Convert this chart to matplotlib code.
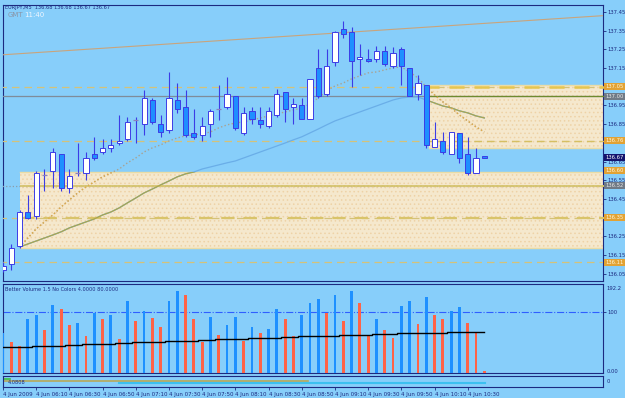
import numpy as np
import matplotlib.pyplot as plt
from matplotlib.patches import Rectangle

# EURJPY M5, 4 Jun 2009, one bar per 5 minutes from 05:50
opens = [136.07, 136.10, 136.20, 136.38, 136.36, 136.58, 136.60, 136.69, 136.51, 136.59,
         136.59, 136.69, 136.70, 136.72, 136.75, 136.77, 136.87, 136.85, 136.98, 136.85,
         136.82, 136.98, 136.94, 136.80, 136.79, 136.85, 136.93, 136.94, 137.00, 136.80,
         136.92, 136.87, 136.84, 136.90, 137.02, 136.94, 136.95, 136.88, 137.15, 137.01,
         137.18, 137.36, 137.34, 137.20, 137.20, 137.20, 137.24, 137.16, 137.25, 137.15,
         137.01, 137.06, 136.73, 136.76, 136.69, 136.80, 136.69, 136.59, 136.68]
highs = [136.11, 136.21, 136.39, 136.47, 136.60, 136.61, 136.72, 136.69, 136.61, 136.75,
         136.70, 136.78, 136.77, 136.77, 136.90, 136.89, 136.89, 137.03, 136.99, 136.90,
         137.13, 137.07, 137.03, 136.93, 136.89, 136.93, 137.06, 137.10, 137.00, 136.94,
         136.94, 136.94, 136.94, 137.04, 137.02, 136.99, 136.99, 137.09, 137.25, 137.25,
         137.35, 137.40, 137.37, 137.28, 137.25, 137.27, 137.27, 137.26, 137.26, 137.15,
         137.11, 137.06, 136.86, 136.81, 136.81, 136.80, 136.78, 136.72, 136.68]
lows = [136.06, 136.07, 136.19, 136.34, 136.34, 136.49, 136.51, 136.49, 136.48, 136.57,
        136.55, 136.66, 136.69, 136.70, 136.74, 136.76, 136.75, 136.79, 136.85, 136.78,
        136.80, 136.91, 136.78, 136.77, 136.76, 136.78, 136.87, 136.93, 136.82, 136.79,
        136.85, 136.83, 136.83, 136.89, 136.86, 136.85, 136.88, 136.88, 136.99, 137.00,
        137.16, 137.31, 137.05, 137.11, 137.18, 137.18, 137.16, 137.15, 137.06, 137.00,
        136.98, 136.72, 136.73, 136.69, 136.69, 136.64, 136.58, 136.59, 136.67]
closes = [136.09, 136.19, 136.38, 136.35, 136.59, 136.58, 136.70, 136.51, 136.57, 136.59,
          136.67, 136.67, 136.72, 136.74, 136.76, 136.86, 136.87, 136.99, 136.86, 136.81,
          136.99, 136.93, 136.79, 136.78, 136.84, 136.92, 136.93, 137.01, 136.83, 136.91,
          136.88, 136.85, 136.92, 137.01, 136.93, 136.96, 136.88, 137.09, 137.00, 137.16,
          137.34, 137.33, 137.19, 137.21, 137.19, 137.24, 137.17, 137.23, 137.16, 137.00,
          137.07, 136.74, 136.77, 136.70, 136.81, 136.67, 136.59, 136.67, 136.67]

# two moving averages, from bar 2 on
ma_start = 2
ma_fast = [136.193, 136.241, 136.290, 136.327, 136.364, 136.407, 136.445, 136.482, 136.514, 136.541,
           136.568, 136.589, 136.610, 136.643, 136.669, 136.701, 136.723, 136.739, 136.760, 136.776,
           136.787, 136.792, 136.798, 136.808, 136.830, 136.846, 136.856, 136.862, 136.872, 136.883,
           136.894, 136.905, 136.915, 136.926, 136.937, 136.958, 136.990, 137.028, 137.054, 137.070,
           137.092, 137.108, 137.124, 137.129, 137.140, 137.151, 137.156, 137.129, 137.097, 137.049,
           137.006, 136.969, 136.937, 136.899, 136.867, 136.835, 136.808]
ma_slow = [136.193, 136.209, 136.225, 136.241, 136.257, 136.274, 136.295, 136.311, 136.327, 136.343,
           136.364, 136.380, 136.402, 136.429, 136.455, 136.482, 136.503, 136.525, 136.546, 136.568,
           136.584, 136.594, 136.610, 136.621, 136.632, 136.643, 136.653, 136.669, 136.685, 136.701,
           136.717, 136.733, 136.749, 136.766, 136.782, 136.803, 136.824, 136.846, 136.867, 136.883,
           136.899, 136.915, 136.931, 136.947, 136.963, 136.979, 136.990, 136.995, 136.995, 136.979,
           136.963, 136.947, 136.937, 136.921, 136.910, 136.894, 136.883]

volume = [65, 50, 45, 88, 95, 70, 112, 105, 78, 82,
          60, 98, 88, 95, 55, 118, 85, 102, 90, 75,
          118, 135, 128, 88, 50, 92, 62, 78, 92, 52,
          75, 65, 72, 105, 88, 60, 95, 115, 122, 98,
          128, 85, 135, 115, 62, 88, 70, 58, 110, 118,
          80, 125, 95, 88, 102, 108, 82, 68, 3]
vol_avg = [42, 42, 43, 43, 44, 44, 45, 45, 46, 46,
           47, 47, 48, 48, 49, 49, 50, 50, 51, 51,
           52, 52, 53, 53, 54, 54, 55, 55, 56, 56,
           57, 57, 58, 58, 59, 59, 60, 60, 60, 61,
           61, 62, 62, 63, 63, 64, 64, 64, 65, 65,
           65, 66, 66, 66, 67, 67, 67, 68, 68]

# drawn objects: boxes (start bar, low, high), trend line, levels
box_big = (2.0, 136.19, 136.595)
box_right = (51.3, 136.72, 137.06)
trend_x = [-0.3, 72.3]
trend_p = [137.22, 137.43]
price_ticks = [136.05, 136.15, 136.25, 136.45, 136.55, 136.65, 136.85, 136.95,
               137.15, 137.25, 137.35, 137.45]
tag_prices = [137.05, 137.00, 136.76, 136.67, 136.60, 136.52, 136.35, 136.11]
tag_kinds = ['o', 'g', 'o', 'n', 'o', 'g', 'o', 'o']
time_labels = ['4 Jun 2009', '4 Jun 06:10', '4 Jun 06:30', '4 Jun 06:50', '4 Jun 07:10',
               '4 Jun 07:30', '4 Jun 07:50', '4 Jun 08:10', '4 Jun 08:30', '4 Jun 08:50',
               '4 Jun 09:10', '4 Jun 09:30', '4 Jun 09:50', '4 Jun 10:10', '4 Jun 10:30']
ind_olive = (0, 36.8, 0.55)
ind_cyan = (14, 58.1, 0.36)
ind_green = (0, 0.9, 0.73)

BG = '#87CEFA'
NAVY = '#1c2a80'
EDGE = '#3c3ce6'
BEAR = '#1e8fff'
TAN = '#d4c27a'

bars = np.arange(len(opens))
o = np.array(opens); c = np.array(closes)
h = np.array(highs); l = np.array(lows)

fig = plt.figure(figsize=(6.25, 3.98), dpi=100, facecolor=BG)
ax = fig.add_axes([3/625, 117/398, 600/625, 276/398], facecolor=BG)
axv = fig.add_axes([3/625, 25/398, 600/625, 89/398], facecolor=BG, sharex=ax)
axi = fig.add_axes([3/625, 11/398, 600/625, 11/398], facecolor=BG, sharex=ax)

ax.set_xlim(0.05, 72.3)
ax.set_ylim(136.011, 137.487)

# boxes
plt.rcParams['hatch.linewidth'] = 0.6
rects = []
for (x0, lo, hi) in (box_big, box_right):
    r = Rectangle((x0, lo), 100, hi - lo, facecolor='#f5e8cd', edgecolor='none', zorder=1)
    ax.add_patch(r)
    ax.add_patch(Rectangle((x0, lo), 100, hi - lo, facecolor='none', edgecolor='#eed2a6',
                           hatch='....', lw=0, zorder=1.1))
    ax.plot([x0, 100], [lo, lo], color='#eadca6', lw=1, zorder=1.2)
    ax.plot([x0, 100], [hi, hi], color='#eadca6', lw=1, zorder=1.2)
    rects.append(r)


def two_tone(x, y, out_col, in_col, lw=0.9, ls='-', in_lw=None, z=3):
    ax.plot(x, y, color=out_col, lw=lw, ls=ls, zorder=z)
    for r in rects:
        ln, = ax.plot(x, y, color=in_col, lw=in_lw or lw, ls=ls, zorder=z + 0.1)
        ln.set_clip_path(r)


xs = [-5, 100]
two_tone(xs, [137.05] * 2, TAN, '#e6c650', ls=(0, (6, 4)), in_lw=1.8)
two_tone(xs, [137.00] * 2, '#7f8c9a', '#6e8b2e')
two_tone(xs, [136.76] * 2, TAN, '#d6bf62', ls=(0, (6, 4)))
two_tone(xs, [136.52] * 2, '#8c9caa', '#d6c470', ls=':', in_lw=1.3)
two_tone(xs, [136.52] * 2, BG, '#d6c470', lw=0.01, in_lw=1.3)
two_tone(xs, [136.35] * 2, TAN, '#d9c46a', ls=(0, (6, 4)), in_lw=1.6)
two_tone(xs, [136.11] * 2, TAN, TAN, ls=(0, (6, 4)))
ax.plot(trend_x, trend_p, color='#c9a47c', lw=0.8, zorder=3)

mx = np.arange(ma_start, ma_start + len(ma_fast))
two_tone(mx, ma_slow, '#6aaee8', '#aaa64e', lw=0.9)
two_tone(mx, ma_fast, '#a8a292', '#e2ac48', lw=1.0, ls=':')

# candles
body_lo = np.minimum(o, c)
body_h = np.abs(c - o)
doji = body_h < 0.005
up = (c > o) & ~doji
dn = (c < o) & ~doji
ax.vlines(bars, l, h, color=EDGE, lw=0.8, zorder=5)
ax.bar(bars[up], body_h[up], bottom=body_lo[up], width=0.62, color='white',
       edgecolor=EDGE, lw=0.7, zorder=6)
ax.bar(bars[dn], body_h[dn], bottom=body_lo[dn], width=0.62, color=BEAR,
       edgecolor=EDGE, lw=0.7, zorder=6)
ax.hlines(o[doji], bars[doji] - 0.31, bars[doji] + 0.31, color='#8a80c0', lw=0.9, zorder=6)

# right price scale
ax.yaxis.tick_right()
ax.set_yticks(price_ticks)
ax.set_yticklabels(['%.2f' % p for p in price_ticks])
ax.tick_params(axis='y', labelsize=3.8, colors=NAVY, length=2, width=0.6, pad=1.5)
ax.tick_params(axis='x', bottom=False, labelbottom=False)
box_style = {'o': ('#e2a234', '#fff7d8'), 'g': ('#707a86', '#e8e8e8'), 'n': ('#14146e', 'white')}
for p, k in zip(tag_prices, tag_kinds):
    fc, tc = box_style[k]
    ax.text(1.004, p, '%.2f' % p, transform=ax.get_yaxis_transform(), fontsize=3.8,
            color=tc, va='center', ha='left', clip_on=False, zorder=10,
            bbox=dict(boxstyle='square,pad=0.18', fc=fc, ec='none'))

# volume panel
vol = np.array(volume)
vcol = ['#1e90ff' if i == 0 or vol[i] >= vol[i - 1] else '#ff6347' for i in range(len(vol))]
axv.set_ylim(0, 145.9)
axv.bar(bars, vol, width=0.34, color=vcol, zorder=3)
axv.plot(bars, vol_avg, color='black', lw=1.0, drawstyle='steps-mid', zorder=4)
axv.axhline(100, color='#2f5fff', lw=0.8, ls='-.', zorder=2)
axv.yaxis.tick_right()
axv.set_yticks([100])
axv.set_yticklabels(['100'])
axv.tick_params(axis='y', labelsize=3.8, colors=NAVY, length=2, width=0.6, pad=1.5)
axv.tick_params(axis='x', bottom=False, labelbottom=False)
axv.text(1.006, 0.95, '192.2', transform=axv.transAxes, fontsize=3.8, color=NAVY, va='center')
axv.text(1.006, 0.02, '0.00', transform=axv.transAxes, fontsize=3.8, color=NAVY, va='center')
axv.text(0.004, 0.94, 'Better Volume 1.5 No Colors 4.0000 80.0000', transform=axv.transAxes,
         fontsize=3.6, color=NAVY, va='center')

# small indicator panel
axi.set_ylim(0, 1)
axi.plot(ind_olive[:2], [ind_olive[2]] * 2, color='#b8a858', lw=1.2)
axi.plot(ind_cyan[:2], [ind_cyan[2]] * 2, color='#3cc0f0', lw=1.5)
axi.plot(ind_green[:2], [ind_green[2]] * 2, color='#40c040', lw=1.2)
axi.text(0.008, 0.45, '4.0808', transform=axi.transAxes, fontsize=3.6, color=NAVY, va='center')
axi.text(1.006, 0.5, '0', transform=axi.transAxes, fontsize=3.8, color=NAVY, va='center')
axi.set_yticks([])
axi.set_xticks(bars[::4][:len(time_labels)])
axi.set_xticklabels(time_labels, ha='left')
axi.tick_params(axis='x', labelsize=4, colors=NAVY, length=2, width=0.6, pad=1.5)

for a in (ax, axv, axi):
    for s in a.spines.values():
        s.set_color(NAVY)
        s.set_linewidth(0.8)

fig.text(5/625, 1 - 7/398, 'EURJPY,M5  136.68 136.68 136.67 136.67', fontsize=3.6,
         color=NAVY, va='center')
fig.text(8/625, 1 - 15/398, 'GMT', fontsize=5, color='#8a96a8', va='center')
fig.text(24/625, 1 - 15/398, '11:40', fontsize=5, color='#eef6ff', va='center')

fig.savefig('out.png', dpi=100, facecolor=BG)
